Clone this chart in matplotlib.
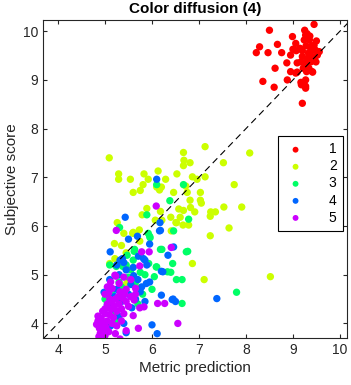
import numpy as np
import matplotlib
matplotlib.use("Agg")
import matplotlib.pyplot as plt

plt.rcParams['font.family'] = ['Liberation Sans', 'DejaVu Sans']

# (metric prediction, subjective score) per group
g1 = [(9.45, 10.14), (8.50, 10.02), (8.22, 9.56), (8.29, 9.68), (8.47, 9.56),
      (8.67, 9.73), (8.76, 9.56), (8.62, 9.24), (8.36, 8.97), (8.60, 8.85),
      (8.88, 9.00), (8.87, 9.35), (8.95, 9.17), (9.20, 8.52), (8.99, 9.89),
      (9.00, 9.63), (9.06, 9.75), (9.07, 9.60), (9.25, 10.02), (9.27, 9.92),
      (9.30, 9.95), (9.24, 9.82), (9.35, 9.82), (9.45, 9.71), (9.38, 9.61),
      (9.48, 9.61), (9.56, 9.58), (9.42, 9.48), (9.31, 9.44), (9.20, 9.48),
      (9.17, 9.37), (9.27, 9.35), (9.38, 9.37), (9.22, 9.24), (9.34, 9.24),
      (9.49, 9.37), (9.52, 9.51), (9.41, 9.17), (9.29, 9.17), (9.24, 8.89),
      (9.27, 9.00), (9.17, 8.95), (9.06, 9.14), (9.09, 9.35), (8.95, 9.51),
      (9.27, 8.87), (9.18, 8.90), (9.42, 9.16), (9.09, 9.16), (9.27, 8.83),
      (9.40, 9.70), (9.33, 9.55), (9.46, 9.45), (9.15, 9.65), (9.36, 9.90),
      (9.50, 9.80), (9.28, 9.70), (9.20, 9.60)]
g2 = [(5.09, 7.40), (5.29, 7.07), (5.29, 6.96), (5.54, 6.96), (5.83, 7.07),
      (5.60, 6.69), (5.75, 6.73), (5.92, 6.96), (5.81, 6.85), (6.13, 7.13),
      (6.10, 6.80), (6.16, 6.74), (6.20, 6.80), (6.29, 6.96), (6.53, 7.07),
      (6.46, 6.69), (6.67, 7.51), (6.68, 7.35), (6.67, 7.24), (6.81, 7.30),
      (7.13, 7.63), (8.08, 7.50), (7.52, 7.30), (6.86, 7.01), (6.96, 6.96),
      (7.13, 7.01), (7.03, 6.69), (6.75, 6.69), (6.72, 6.82), (7.75, 6.85),
      (6.81, 6.53), (7.03, 6.53), (7.05, 6.47), (6.82, 6.38), (6.57, 6.35),
      (6.67, 6.32), (6.91, 6.29), (7.25, 6.29), (7.35, 6.29), (7.24, 6.20),
      (7.53, 6.39), (7.91, 6.39), (7.64, 5.96), (7.24, 5.80), (6.78, 6.02),
      (6.66, 6.02), (6.52, 6.07), (6.60, 6.18), (6.40, 6.18), (6.21, 6.12),
      (6.07, 6.12), (6.18, 6.30), (5.89, 6.36), (5.79, 6.23), (5.26, 6.07),
      (5.20, 5.64), (5.40, 5.85), (5.59, 5.85), (5.74, 5.69), (6.41, 5.90),
      (6.86, 5.23), (7.11, 4.90), (8.52, 4.96), (5.66, 4.75), (5.60, 5.87),
      (5.73, 5.92), (5.21, 5.33), (6.51, 6.07), (5.45, 5.45), (5.35, 5.60),
      (5.46, 4.82), (5.10, 5.23)]
g3 = [(6.10, 6.85), (6.67, 6.85), (6.38, 6.52), (5.89, 6.23), (6.78, 6.14),
      (5.31, 5.97), (5.92, 5.85), (5.95, 5.79), (6.46, 5.90), (6.18, 5.52),
      (6.73, 5.47), (5.63, 5.52), (5.47, 5.40), (5.96, 5.76), (5.62, 5.48),
      (6.09, 5.16), (5.10, 5.20), (5.24, 5.17), (5.38, 5.17), (5.45, 5.20),
      (6.21, 5.52), (6.76, 5.48), (6.44, 5.23), (6.33, 5.06), (6.40, 5.05),
      (7.80, 4.64), (6.64, 4.41), (6.52, 4.90), (6.64, 4.90), (6.10, 5.16),
      (6.05, 4.96), (5.93, 5.23), (5.75, 5.05), (5.55, 5.10), (5.30, 4.85),
      (5.15, 4.60), (5.05, 4.45), (5.20, 4.20), (5.35, 4.75), (5.50, 4.95),
      (5.65, 4.85), (5.80, 4.60), (5.85, 5.00), (5.00, 4.50), (5.70, 4.40),
      (5.40, 4.60), (6.00, 4.70), (5.25, 4.05), (5.60, 5.30), (5.75, 5.40)]
g4 = [(6.10, 6.96), (5.43, 6.18), (6.17, 6.07), (6.18, 5.91), (6.16, 5.90),
      (5.69, 5.79), (5.50, 5.73), (5.95, 5.63), (5.11, 5.47), (6.46, 5.57),
      (6.34, 5.40), (5.82, 5.33), (5.32, 5.30), (5.37, 5.33), (5.71, 5.38),
      (5.85, 5.30), (5.89, 5.20), (6.23, 5.06), (6.20, 5.07), (5.61, 4.98),
      (5.88, 4.82), (6.20, 4.58), (6.43, 4.49), (7.38, 4.51), (6.00, 3.97),
      (6.11, 3.79), (5.45, 3.81), (4.98, 4.64), (5.10, 4.90), (5.25, 4.70),
      (5.35, 4.45), (5.50, 4.60), (5.55, 4.80), (5.65, 4.50), (5.75, 4.65),
      (5.15, 4.30), (5.30, 4.15), (5.40, 4.00), (5.05, 4.38), (5.20, 4.55),
      (5.45, 5.10), (5.60, 5.15), (5.70, 4.90), (5.78, 4.75), (5.30, 5.00),
      (5.95, 4.85), (6.45, 4.50), (6.50, 4.45), (5.12, 3.95), (5.25, 5.20),
      (5.40, 5.25), (5.57, 4.32), (5.85, 4.45)]
g5 = [(4.82, 3.98), (4.85, 4.05), (4.88, 3.90), (4.90, 3.80), (4.87, 3.73),
      (4.95, 3.85), (4.92, 4.10), (4.98, 4.00), (5.00, 4.20), (5.02, 3.92),
      (5.05, 4.05), (5.08, 3.83), (4.95, 4.25), (5.00, 4.30), (5.05, 4.40),
      (5.10, 4.18), (5.12, 4.30), (5.15, 4.45), (5.18, 4.12), (5.20, 4.35),
      (5.22, 4.50), (5.10, 4.50), (5.25, 4.25), (5.28, 4.55), (5.30, 4.40),
      (5.32, 4.65), (5.35, 4.30), (5.38, 4.52), (5.40, 4.20), (5.42, 4.60),
      (5.45, 4.45), (5.50, 4.35), (5.55, 4.55), (5.60, 4.16), (5.62, 4.48),
      (5.35, 4.05), (5.25, 3.95), (5.15, 4.00), (5.22, 3.79), (5.32, 3.68),
      (5.45, 3.85), (5.71, 3.90), (5.74, 4.32), (5.83, 4.34), (6.12, 4.41),
      (6.27, 4.41), (6.55, 4.00), (5.23, 4.97), (5.74, 5.18), (5.21, 4.99),
      (6.41, 5.56), (5.78, 5.47), (5.94, 5.47), (6.09, 6.41), (5.24, 5.91),
      (5.05, 4.75), (5.15, 4.72), (5.30, 4.82), (5.45, 4.70), (5.55, 4.90),
      (5.65, 4.60), (5.00, 4.60), (5.40, 4.95), (5.08, 4.63), (5.12, 4.85),
      (5.65, 4.72), (4.85, 4.15), (4.90, 3.95), (5.00, 3.75)]
groups = [g1, g2, g3, g4, g5]
labels = ['1', '2', '3', '4', '5']
colors = [(1, 0, 0), (0.8, 1, 0), (0, 1, 0.4), (0, 0.4, 1), (0.8, 0, 1)]

fig = plt.figure(figsize=(3.51, 3.85), dpi=100)
ax = fig.add_axes([0.1225, 0.122, 0.866, 0.826])

for pts, lab, c in zip(groups, labels, colors):
    pts = np.array(pts)
    ax.scatter(pts[:, 0], pts[:, 1], s=28, color=c, edgecolors='none', label=lab)

ax.plot([3.68, 10.2], [3.68, 10.2], '--', color='k', lw=0.8, dashes=(6, 4))

ax.set_xlim(3.68, 10.15)
ax.set_ylim(3.70, 10.23)
ax.set_xticks(range(4, 11))
ax.set_yticks(range(4, 11))
grey = (0.15, 0.15, 0.15)
ax.tick_params(direction='in', top=True, right=True, length=3, width=0.8,
               labelsize=10, colors=grey)
for sp in ax.spines.values():
    sp.set_color(grey)
    sp.set_linewidth(0.8)

ax.set_title('Color diffusion (4)', fontsize=11, fontweight='bold', pad=5)
ax.set_xlabel('Metric prediction', fontsize=11, color=grey, labelpad=3)
ax.set_ylabel('Subjective score', fontsize=11, color=grey, labelpad=3)

leg = ax.legend(loc='upper right', bbox_to_anchor=(0.987, 0.635), fontsize=10,
                frameon=True, fancybox=False, framealpha=1, edgecolor='k',
                borderpad=0.45, labelspacing=0.22, handletextpad=1.6,
                handlelength=1.6, borderaxespad=0, markerscale=0.8)
leg.get_frame().set_linewidth(0.8)

fig.savefig('out.png', dpi=100)
